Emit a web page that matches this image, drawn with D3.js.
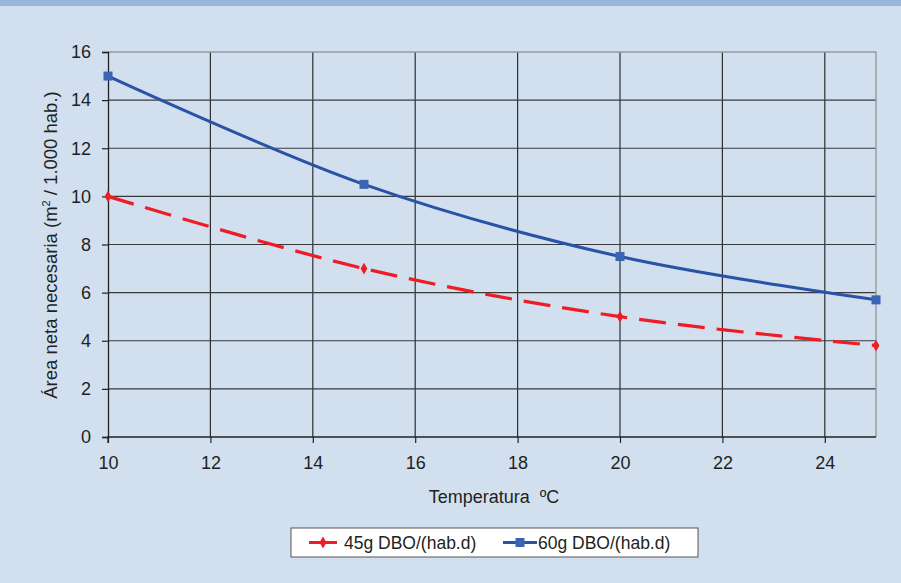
<!DOCTYPE html>
<html>
<head>
<meta charset="utf-8">
<script src="https://cdn.jsdelivr.net/npm/d3@7"></script>
<style>
  html, body { margin: 0; padding: 0; background: #d1dfef; }
  svg { display: block; font-family: "Liberation Sans", Arial, sans-serif; }
</style>
</head>
<body>
<svg id="chart" width="901" height="583"></svg>
<script>
// Temperature (ºC) on the x axis
const temperatures = [10, 15, 20, 25];
// Net area required (m² / 1.000 hab.) for each load
const area45 = [10, 7, 5, 3.8];
const area60 = [15, 10.5, 7.5, 5.7];
const seriesNames = ["45g DBO/(hab.d)", "60g DBO/(hab.d)"];
const xTicks = [10, 12, 14, 16, 18, 20, 22, 24];
const yTicks = [0, 2, 4, 6, 8, 10, 12, 14, 16];

const svg = d3.select("#chart");
const W = 901, H = 583;
const ink = "#231f20";

svg.append("rect").attr("width", W).attr("height", H).attr("fill", "#d1dfef");
svg.append("rect").attr("width", W).attr("height", 6).attr("fill", "#9bb6dc");

const x = d3.scaleLinear().domain([10, 25]).range([108, 876]);
const y = d3.scaleLinear().domain([0, 16]).range([437, 52]);

// Grid
const grid = svg.append("g");
grid.selectAll("line.v").data(xTicks.slice(1)).join("line")
  .attr("x1", d => x(d)).attr("x2", d => x(d))
  .attr("y1", y(16)).attr("y2", y(0))
  .attr("stroke", "#2f2f2f").attr("stroke-width", 1.2);
grid.selectAll("line.h").data(yTicks.slice(1, -1)).join("line")
  .attr("x1", x(10)).attr("x2", x(25))
  .attr("y1", d => y(d)).attr("y2", d => y(d))
  .attr("stroke", "#3a3a3a").attr("stroke-width", 1.2);
// top and right frame
grid.append("path")
  .attr("d", `M${x(10)},${y(16)}H${x(25)}V${y(0)}`)
  .attr("fill", "none").attr("stroke", "#9a9a9a").attr("stroke-width", 1.4);

// Axes
const xAxis = svg.append("g").attr("transform", `translate(0,${y(0)})`)
  .call(d3.axisBottom(x).tickValues(xTicks).tickSize(6).tickPadding(13).tickFormat(d3.format("d")));
const yAxis = svg.append("g").attr("transform", `translate(${x(10)},0)`)
  .call(d3.axisLeft(y).tickValues(yTicks).tickSize(6).tickPadding(11).tickFormat(d3.format("d")));
[xAxis, yAxis].forEach(a => {
  a.select(".domain").attr("stroke", "#222").attr("stroke-width", 1.3);
  a.selectAll(".tick line").attr("stroke", "#222").attr("stroke-width", 1.2);
  a.selectAll(".tick text").attr("fill", ink).attr("font-size", 18)
    .attr("font-family", "'Liberation Sans', Arial, sans-serif");
});
// the x domain reaches to 25 without a tick label there
xAxis.select(".domain").attr("d", `M${x(10)},6V0H${x(25)}V0`);

// Axis titles
svg.append("text").attr("x", 494).attr("y", 503).attr("text-anchor", "middle")
  .attr("font-size", 18).attr("fill", ink).style("white-space", "pre")
  .text("Temperatura  ºC");

const yt = svg.append("text").attr("transform", "translate(57,245) rotate(-90)")
  .attr("text-anchor", "middle").attr("font-size", 18.5).attr("fill", ink);
yt.append("tspan").text("Área neta necesaria (m");
yt.append("tspan").attr("font-size", 11).attr("dy", -7).text("2");
yt.append("tspan").attr("dy", 7).text(" / 1.000 hab.)");

// Lines
const line = d3.line().x(d => x(d[0])).y(d => y(d[1])).curve(d3.curveCatmullRom.alpha(0.5));
const d45 = temperatures.map((t, i) => [t, area45[i]]);
const d60 = temperatures.map((t, i) => [t, area60[i]]);
const red = "#ee1c25", blue = "#2a52a6", blueMark = "#3c64b4";

svg.append("path").datum(d60).attr("d", line)
  .attr("fill", "none").attr("stroke", blue).attr("stroke-width", 3);
svg.append("path").datum(d45).attr("d", line)
  .attr("fill", "none").attr("stroke", red).attr("stroke-width", 3.2)
  .attr("stroke-dasharray", "27,12");

svg.selectAll("rect.m60").data(d60).join("rect")
  .attr("x", d => x(d[0]) - 4.5).attr("y", d => y(d[1]) - 4.5)
  .attr("width", 9).attr("height", 9).attr("fill", blueMark);
const diamond = d3.symbol().type(d3.symbolDiamond).size(40);
svg.selectAll("path.m45").data(d45).join("path")
  .attr("transform", d => `translate(${x(d[0])},${y(d[1])})`)
  .attr("d", diamond).attr("fill", red);

// Legend
const lg = svg.append("g");
lg.append("rect").attr("x", 291).attr("y", 528).attr("width", 407).attr("height", 29)
  .attr("fill", "#fff").attr("stroke", "#555").attr("stroke-width", 1);
const items = [
  { name: seriesNames[0], color: red, x0: 309, len: 28, tx: 35, mark: "diamond" },
  { name: seriesNames[1], color: blue, x0: 503, len: 34, tx: 35, mark: "square" }
];
items.forEach(it => {
  const g = lg.append("g").attr("transform", `translate(${it.x0},542.5)`);
  g.append("line").attr("x1", 0).attr("x2", it.len).attr("stroke", it.color).attr("stroke-width", 3);
  if (it.mark === "diamond") {
    g.append("path").attr("transform", `translate(${it.len / 2},0)`).attr("d", diamond).attr("fill", it.color);
  } else {
    g.append("rect").attr("x", it.len / 2 - 4.5).attr("y", -4.5).attr("width", 9).attr("height", 9).attr("fill", blueMark);
  }
  g.append("text").attr("x", it.tx).attr("y", 6.5).attr("font-size", 17.5)
    .attr("fill", ink).text(it.name);
});
</script>
</body>
</html>
